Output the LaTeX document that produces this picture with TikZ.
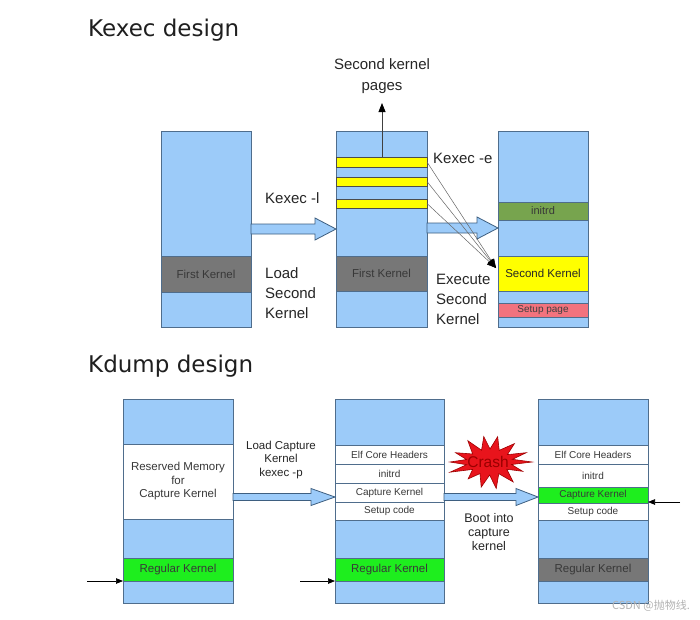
\documentclass[tikz,border=0pt]{standalone}
\usepackage{fontspec}
\setmainfont{Liberation Sans}
\newfontfamily\titlefont{DejaVu Sans}
\newfontfamily\cjk{Noto Sans CJK SC}
\usetikzlibrary{calc,arrows.meta}
\definecolor{memblue}{HTML}{9CCBF9}
\definecolor{bordc}{HTML}{4F6D8C}
\definecolor{kgray}{HTML}{777777}
\definecolor{kyellow}{HTML}{FFFF00}
\definecolor{olivegreen}{HTML}{77A44E}
\definecolor{salmon}{HTML}{F2737E}
\definecolor{bgreen}{HTML}{1EEE1E}
\definecolor{arrfill}{HTML}{9CCBF9}
\definecolor{arrbord}{HTML}{3E5F80}
\definecolor{crashred}{HTML}{E8141C}
\definecolor{crashbord}{HTML}{9E0000}
\definecolor{crashtxt}{HTML}{9A0000}
\definecolor{txtdark}{HTML}{383838}
\newcommand\myfs[1]{\fontsize{#1}{#1}\selectfont}
\newcommand\myfsl[2]{\fontsize{#1}{#2}\selectfont}
\newcommand\blockarrow[5]{%
\draw[barrow] ($(#1)+(0,-#3)$) -- ($(#2)+(-#5,-#3)$) -- ($(#2)+(-#5,-#4)$) -- (#2) -- ($(#2)+(-#5,#4)$) -- ($(#2)+(-#5,#3)$) -- ($(#1)+(0,#3)$) -- cycle;}
\begin{document}
\begin{tikzpicture}[x=1pt,y=-1pt,
  mem/.style={draw=bordc, fill=memblue, line width=0.8pt, inner sep=0pt, outer sep=0pt, anchor=north west},
  band/.style={draw=bordc, line width=0.8pt, inner sep=0pt, outer sep=0pt, anchor=north west, text=txtdark},
  barrow/.style={draw=arrbord, fill=arrfill, line width=0.8pt, line join=miter},
  thinarr/.style={draw=black, line width=0.7pt, -{Triangle[length=7pt,width=5.5pt]}},
  eline/.style={draw=black!60, line width=0.5pt, -{Triangle[length=9pt,width=7pt,color=black]}},
  lbl/.style={inner sep=0pt, text=black!85, font=\myfs{15}},
  title/.style={inner sep=0pt, anchor=west, text=black!88, font=\titlefont\myfs{23}}]
\useasboundingbox (0,0) rectangle (700,619);
\fill[white] (0,0) rectangle (700,619);

% ---------- Kexec design ----------
\node[title] (t1) at (88,30) {Kexec design};

\node[mem, minimum width=90pt, minimum height=196pt] (k1) at (161,131) {};
\node[band, fill=kgray, minimum width=90pt, minimum height=36pt, font=\myfs{11.5}] (k1fk) at (161,256) {First Kernel};

\node[mem, minimum width=91pt, minimum height=196pt] (k2) at (336,131) {};
\node[band, draw=black!70, fill=kyellow, minimum width=91pt, minimum height=10pt] (y1) at (336,157) {};
\node[band, draw=black!70, fill=kyellow, minimum width=91pt, minimum height=9pt] (y2) at (336,177) {};
\node[band, draw=black!70, fill=kyellow, minimum width=91pt, minimum height=9pt] (y3) at (336,199) {};
\node[band, fill=kgray, minimum width=91pt, minimum height=35pt, font=\myfs{11.5}] (k2fk) at (336,256) {First Kernel};

\node[mem, minimum width=90pt, minimum height=196pt] (k3) at (498,131) {};
\node[band, fill=olivegreen, minimum width=90pt, minimum height=18pt, font=\myfs{11}] (k3i) at (498,202) {initrd};
\node[band, fill=kyellow, minimum width=90pt, minimum height=35pt, font=\myfs{11.5}, text=black!85] (k3sk) at (498,256) {Second Kernel};
\node[band, fill=salmon, minimum width=90pt, minimum height=14pt, font=\myfs{10}, text=black!75] (k3sp) at (498,303) {Setup page};

\coordinate (a1s) at (k1.east |- 0,229);
\coordinate (a1e) at (k2.west |- 0,229);
\blockarrow{a1s}{a1e}{5}{11}{21}
\coordinate (a2s) at (k2.east |- 0,228);
\coordinate (a2e) at (k3.west |- 0,228);
\blockarrow{a2s}{a2e}{5}{11}{21}

\coordinate (pg) at (382,103);
\draw[draw=black!75, line width=0.8pt, -{Triangle[length=9pt,width=7pt,color=black]}] (y1.north -| pg) -- (pg);
\node[lbl, align=center, font=\myfsl{15}{21}] (pgl) at (382,76) {Second kernel\\pages};

\coordinate (sk) at (496,268);
\draw[eline] (y1.east) -- (sk);
\draw[eline] (y2.east) -- (sk);
\draw[eline] (y3.east) -- (sk);

\node[lbl, anchor=west] (kl) at (265,198) {Kexec -l};
\node[lbl, anchor=west, align=left, font=\myfsl{15}{20}] (lsk) at (265,293) {Load\\Second\\Kernel};
\node[lbl, anchor=west] (ke) at (433,158) {Kexec -e};
\node[lbl, anchor=west, align=left, font=\myfsl{15}{20}] (esk) at (436,299) {Execute\\Second\\Kernel};

% ---------- Kdump design ----------
\node[title] (t2) at (88,366) {Kdump design};

\node[mem, minimum width=110pt, minimum height=204pt] (dA) at (123,399) {};
\node[band, fill=white, minimum width=110pt, minimum height=75pt, align=center, font=\myfsl{11.5}{13.5}] (dAr) at (123,444) {Reserved Memory\\for\\Capture Kernel};
\node[band, fill=bgreen, minimum width=110pt, minimum height=23pt, font=\myfs{11.5}] (dArk) at (123,558) {Regular Kernel};

\node[mem, minimum width=109pt, minimum height=204pt] (dB) at (335,399) {};
\node[band, fill=white, minimum width=109pt, minimum height=19pt, font=\myfs{10}] (dBe) at (335,445) {Elf Core Headers};
\node[band, fill=white, minimum width=109pt, minimum height=19pt, font=\myfs{10}] (dBi) at (335,464) {initrd};
\node[band, fill=white, minimum width=109pt, minimum height=19pt, font=\myfs{10}] (dBc) at (335,483) {Capture Kernel};
\node[band, fill=white, minimum width=109pt, minimum height=18pt, font=\myfs{10}] (dBs) at (335,502) {Setup code};
\node[band, fill=bgreen, minimum width=109pt, minimum height=23pt, font=\myfs{11.5}] (dBrk) at (335,558) {Regular Kernel};

\node[mem, minimum width=110pt, minimum height=204pt] (dC) at (538,399) {};
\node[band, fill=white, minimum width=110pt, minimum height=19pt, font=\myfs{10}] (dCe) at (538,445) {Elf Core Headers};
\node[band, fill=white, minimum width=110pt, minimum height=23pt, font=\myfs{10}] (dCi) at (538,464) {initrd};
\node[band, fill=bgreen, minimum width=110pt, minimum height=16pt, font=\myfs{10}] (dCc) at (538,487) {Capture Kernel};
\node[band, fill=white, minimum width=110pt, minimum height=17pt, font=\myfs{10}] (dCs) at (538,503) {Setup code};
\node[band, fill=kgray, minimum width=110pt, minimum height=23pt, font=\myfs{11.5}] (dCrk) at (538,558) {Regular Kernel};

\coordinate (b1s) at (dA.east |- 0,497);
\coordinate (b1e) at (dB.west |- 0,497);
\blockarrow{b1s}{b1e}{3.5}{8.5}{24}
\coordinate (b2s) at (dB.east |- 0,497);
\coordinate (b2e) at (dC.west |- 0,497);
\blockarrow{b2s}{b2e}{3.5}{8.5}{22}

\coordinate (inA) at (87,581);
\draw[thinarr] (inA) -- (dA.west |- inA);
\coordinate (inB) at (300,581);
\draw[thinarr] (inB) -- (dB.west |- inB);
\coordinate (inC) at (680,502);
\draw[thinarr] (inC) -- (dC.east |- inC);

\node[lbl, align=center, font=\myfsl{11.5}{13.5}] (lck) at (281,460) {Load Capture\\Kernel\\kexec -p};
\node[lbl, align=center, font=\myfsl{12.5}{14}] (bic) at (489,532) {Boot into\\capture\\kernel};

% crash starburst
\begin{scope}[shift={(490,462)}]
\filldraw[fill=crashred, draw=crashbord, line width=0.6pt, line join=miter]
 (0:42 and 22) -- (12:22 and 12) -- (25:36 and 22) -- (37:21 and 12) -- (50:36 and 26) -- (64:20 and 13)
 -- (78:30 and 27) -- (91:22 and 13) -- (105:34 and 26) -- (117:22 and 13) -- (130:34 and 22) -- (142:22 and 12)
 -- (155:44 and 24) -- (167:24 and 12) -- (180:40 and 20) -- (192:24 and 12) -- (205:38 and 22) -- (218:22 and 13)
 -- (232:36 and 27) -- (245:20 and 13) -- (258:30 and 26) -- (270:20 and 13) -- (283:34 and 26) -- (296:21 and 13)
 -- (310:38 and 24) -- (322:22 and 12) -- (335:40 and 22) -- (347:23 and 12) -- cycle;
\end{scope}
\node[inner sep=0pt, text=crashtxt, font=\myfs{15.5}] (crash) at (488,462) {Crash};

% watermark
\node[inner sep=0pt, anchor=east, text=black!30, font=\cjk\myfs{11}] (wm) at (690,606) {CSDN @抛物线.};
\end{tikzpicture}
\end{document}
